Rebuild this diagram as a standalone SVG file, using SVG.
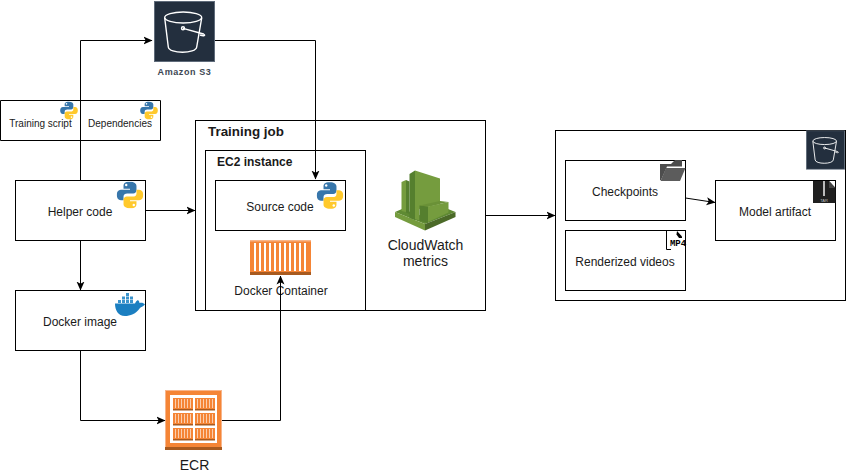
<svg xmlns="http://www.w3.org/2000/svg" xmlns:xlink="http://www.w3.org/1999/xlink" width="846" height="474" viewBox="0 0 846 474">
<style>
text{font-family:"Liberation Sans",Arial,sans-serif;font-size:12px;fill:#1a1a1a;text-anchor:middle}
.box{fill:#fff;stroke:#000;stroke-width:1}
.plain{fill:none;stroke:#000;stroke-width:1}
.conn{fill:none;stroke:#000;stroke-width:1;marker-end:url(#arrow)}
.bold{font-weight:bold;text-anchor:start}
.small{font-size:10px}
</style>
<defs>
<marker id="arrow" viewBox="0 0 9 9" refX="8.500" refY="4.500" markerWidth="9" markerHeight="9" markerUnits="userSpaceOnUse" orient="auto"><path d="M0 0.500L9 4.500L0 8.500L2.200 4.500Z" fill="#000"/></marker>
<symbol id="py" viewBox="0 0 100 100">
<path fill="#3776ab" d="M49 1C29 1 26 9 26 17V27H50V31H16C6 31 1 39 1 50C1 61 6 69 16 69H26V56C26 48 32 44 40 44H62C69 44 74 38 74 32V17C74 8 66 1 49 1Z"/>
<circle cx="36" cy="13" r="4.500" fill="#fff"/>
<path fill="#ffc92c" d="M51 99C71 99 74 91 74 83V73H50V69H84C94 69 99 61 99 50C99 39 94 31 84 31H74V44C74 52 68 56 60 56H38C31 56 26 62 26 68V83C26 92 34 99 51 99Z"/>
<circle cx="64" cy="87" r="4.500" fill="#fff"/>
</symbol>
<symbol id="bucket" viewBox="0 0 61 61">
<rect x="0.500" y="0.500" width="60" height="60" fill="#232f3e" stroke="#5f6b7a"/>
<g fill="none" stroke="#fff" stroke-width="1.400">
<ellipse cx="29.200" cy="16.500" rx="18.500" ry="5.500"/>
<path d="M10.700 17L14.300 46C15 53 42 53 42.700 46L47.700 17"/>
<path d="M29 27.300L49.500 33C52 34.500 50 35.500 46 34"/>
<circle cx="29" cy="27.300" r="1.500"/>
</g>
</symbol>
</defs>

<g id="connectors-under">
<path class="conn" d="M80.500 180.500V40.500H152"/>
</g>

<g id="training-script">
<path class="plain" d="M0.500 100.500H160.500V140.500H0.500Z"/>
<use xlink:href="#py" href="#py" x="60" y="101" width="18" height="19"/>
<text x="40.500" y="127" class="small">Training script</text>
</g>
<g id="dependencies">
<use xlink:href="#py" href="#py" x="140" y="101" width="18" height="19"/>
<text x="120" y="127" class="small">Dependencies</text>
</g>

<g id="amazon-s3">
<use xlink:href="#bucket" href="#bucket" x="154" y="1" width="61" height="61"/>
<text x="184.500" y="74.500" style="font-size:9px;font-weight:bold;fill:#3d4754;letter-spacing:.6px">Amazon S3</text>
</g>

<g id="helper-code">
<rect class="box" x="15.500" y="180.500" width="130" height="60"/>
<use xlink:href="#py" href="#py" x="116.500" y="181.500" width="27" height="27"/>
<text x="80" y="216">Helper code</text>
</g>

<g id="docker-image">
<rect class="box" x="15.500" y="290.500" width="130" height="60"/>
<path fill="#1b7fc1" d="M115 303.500H135C136 301 137 300.500 138 300C139 301 139.500 302 139.500 303C142 302.500 143.500 303 145 304.500C143 306.500 141 307 140 308C136 314 130 316 125 316C118 316 115 310 115 303.500Z"/>
<path fill="#3a93cc" d="M118 300h3v3h-3zM122 300h3v3h-3zM126 300h3v3h-3zM130 300h3v3h-3zM122 296.500h3v3h-3zM126 296.500h3v3h-3zM130 296.500h3v3h-3zM126 293h3v3h-3z"/>
<text x="80" y="326">Docker image</text>
</g>

<g id="training-job">
<rect class="box" x="195.500" y="120.500" width="290" height="190"/>
<text x="208" y="135.500" class="bold" style="font-size:13.400px">Training job</text>
</g>

<g id="ec2-instance">
<rect class="box" x="205.500" y="150.500" width="160" height="160"/>
<text x="217" y="166" class="bold">EC2 instance</text>
</g>

<g id="source-code">
<rect class="box" x="215.500" y="180.500" width="130" height="50"/>
<use xlink:href="#py" href="#py" x="316.500" y="182" width="27" height="27"/>
<text x="280" y="211">Source code</text>
</g>

<g id="docker-container">
<rect x="250" y="240" width="61" height="35" fill="#f58536"/>
<rect x="250" y="240" width="61" height="1.500" fill="#f8b58a"/>
<rect x="250" y="272" width="61" height="3" fill="#a85a1f"/>
<path fill="#fff" d="M254 243h2v28h-2zM259 243h2v28h-2zM264 243h2v28h-2zM269 243h2v28h-2zM274 243h2v28h-2zM279 243h2v28h-2zM284 243h2v28h-2zM289 243h2v28h-2zM294 243h2v28h-2zM299 243h2v28h-2zM304 243h2v28h-2z"/>
<text x="281" y="295">Docker Container</text>
</g>

<g id="cloudwatch-metrics">
<path fill="#5f8a33" d="M395 212L402 209L425 217L448 209L455.500 212L425 224Z"/>
<path fill="#759c3e" d="M395 212L425 224V230.500L395 217Z"/>
<path fill="#4b6a28" d="M455.500 212L425 224V230.500L455.500 217Z"/>
<path fill="#759c3e" d="M401.500 182L406 180V212L401.500 211Z"/>
<path fill="#557f2e" d="M406 180L409.500 181.500V214L406 212.500Z"/>
<path fill="#557f2e" d="M409.500 174L415 170.500V220L409.500 218Z"/>
<path fill="#759c3e" d="M415 170.500L440 178.500V204L415 210Z"/>
<path fill="#759c3e" d="M415 208L419.500 206V220.500L415 219Z"/>
<path fill="#557f2e" d="M419.500 205.500L425.500 203V220L419.500 221Z" opacity="0"/>
<path fill="#557f2e" d="M419.500 205.500L428 206.500V223L419.500 220.500Z"/>
<path fill="#759c3e" d="M428 206.500L448.500 202V212.500L428 222Z"/>
<path fill="#6a9137" d="M419.500 205.500L440 201L448.500 202L428 206.500Z"/>
<text x="425.500" y="250" style="font-size:14px">CloudWatch</text>
<text x="425.500" y="266" style="font-size:14px">metrics</text>
</g>

<g id="ecr">
<rect x="165" y="390" width="57" height="60" fill="#f58536"/>
<rect x="165.500" y="390.500" width="56" height="59" fill="none" stroke="#f8b58a"/>
<rect x="165" y="447" width="57" height="3" fill="#a85a1f"/>
<rect x="170" y="395" width="47" height="48" fill="#fff"/>
<g fill="#f58536">
<rect x="173" y="398" width="20" height="12"/><rect x="195" y="398" width="20" height="12"/>
<rect x="173" y="413" width="20" height="12"/><rect x="195" y="413" width="20" height="12"/>
<rect x="173" y="428" width="20" height="12"/><rect x="195" y="428" width="20" height="12"/>
</g>
<g fill="#fff" opacity=".6">
<path d="M175 399h1v9h-1zM178 399h1v9h-1zM181 399h1v9h-1zM184 399h1v9h-1zM187 399h1v9h-1zM190 399h1v9h-1zM197 399h1v9h-1zM200 399h1v9h-1zM203 399h1v9h-1zM206 399h1v9h-1zM209 399h1v9h-1zM212 399h1v9h-1z"/>
<path d="M175 414h1v9h-1zM178 414h1v9h-1zM181 414h1v9h-1zM184 414h1v9h-1zM187 414h1v9h-1zM190 414h1v9h-1zM197 414h1v9h-1zM200 414h1v9h-1zM203 414h1v9h-1zM206 414h1v9h-1zM209 414h1v9h-1zM212 414h1v9h-1z"/>
<path d="M175 429h1v9h-1zM178 429h1v9h-1zM181 429h1v9h-1zM184 429h1v9h-1zM187 429h1v9h-1zM190 429h1v9h-1zM197 429h1v9h-1zM200 429h1v9h-1zM203 429h1v9h-1zM206 429h1v9h-1zM209 429h1v9h-1zM212 429h1v9h-1z"/>
</g>
<path fill="#a85a1f" d="M173 409h20v1.500h-20zM195 409h20v1.500h-20zM173 424h20v1.500h-20zM195 424h20v1.500h-20zM173 439h20v1.500h-20zM195 439h20v1.500h-20z"/>
<text x="194.500" y="470" style="font-size:14px">ECR</text>
</g>

<g id="output-container">
<rect class="box" x="555.500" y="130.500" width="290" height="170"/>
<use xlink:href="#bucket" href="#bucket" x="806" y="130" width="39" height="40"/>
</g>

<g id="checkpoints">
<rect class="box" x="565.500" y="160.500" width="120" height="60"/>
<path fill="#4d4d4d" d="M660 164H671L675 160H682V166.500H667L661 180H660Z"/>
<path fill="#5c5c5c" d="M666 168H685.500L680 181H660.500Z"/>
<text x="625" y="196">Checkpoints</text>
</g>

<g id="renderized-videos">
<rect class="box" x="565.500" y="230.500" width="120" height="60"/>
<path fill="none" stroke="#000" d="M671 249.500H666.500V231"/>
<path fill="#000" d="M677 231L682 236.500V238H679L676.500 234.500Z"/>
<text x="678" y="246" style="font-family:'Liberation Mono',monospace;font-size:9px;font-weight:bold;fill:#000">MP4</text>
<text x="625" y="266">Renderized videos</text>
</g>

<g id="model-artifact">
<rect class="box" x="715.500" y="180.500" width="120" height="60"/>
<path fill="#1f1f1f" d="M813 181H829L835.500 188V203H813Z"/>
<path fill="#444" d="M829 181V188H835.500Z"/>
<path fill="#bbb" d="M823 181h2v15h-2z"/>
<text x="824" y="201.500" style="font-size:4px;fill:#bbb">TAR</text>
<text x="775" y="216">Model artifact</text>
</g>

<g id="connectors">
<path class="conn" d="M215 40.500H315.500V179"/>
<path class="conn" d="M145.500 210.500H195"/>
<path class="conn" d="M80.500 240.500V290"/>
<path class="conn" d="M80.500 350.500V420.500H165"/>
<path class="conn" d="M222 420.500H280.500V276"/>
<path class="conn" d="M485.500 215.500H555"/>
<path class="conn" d="M685.500 198L715 202.500"/>
</g>
</svg>
